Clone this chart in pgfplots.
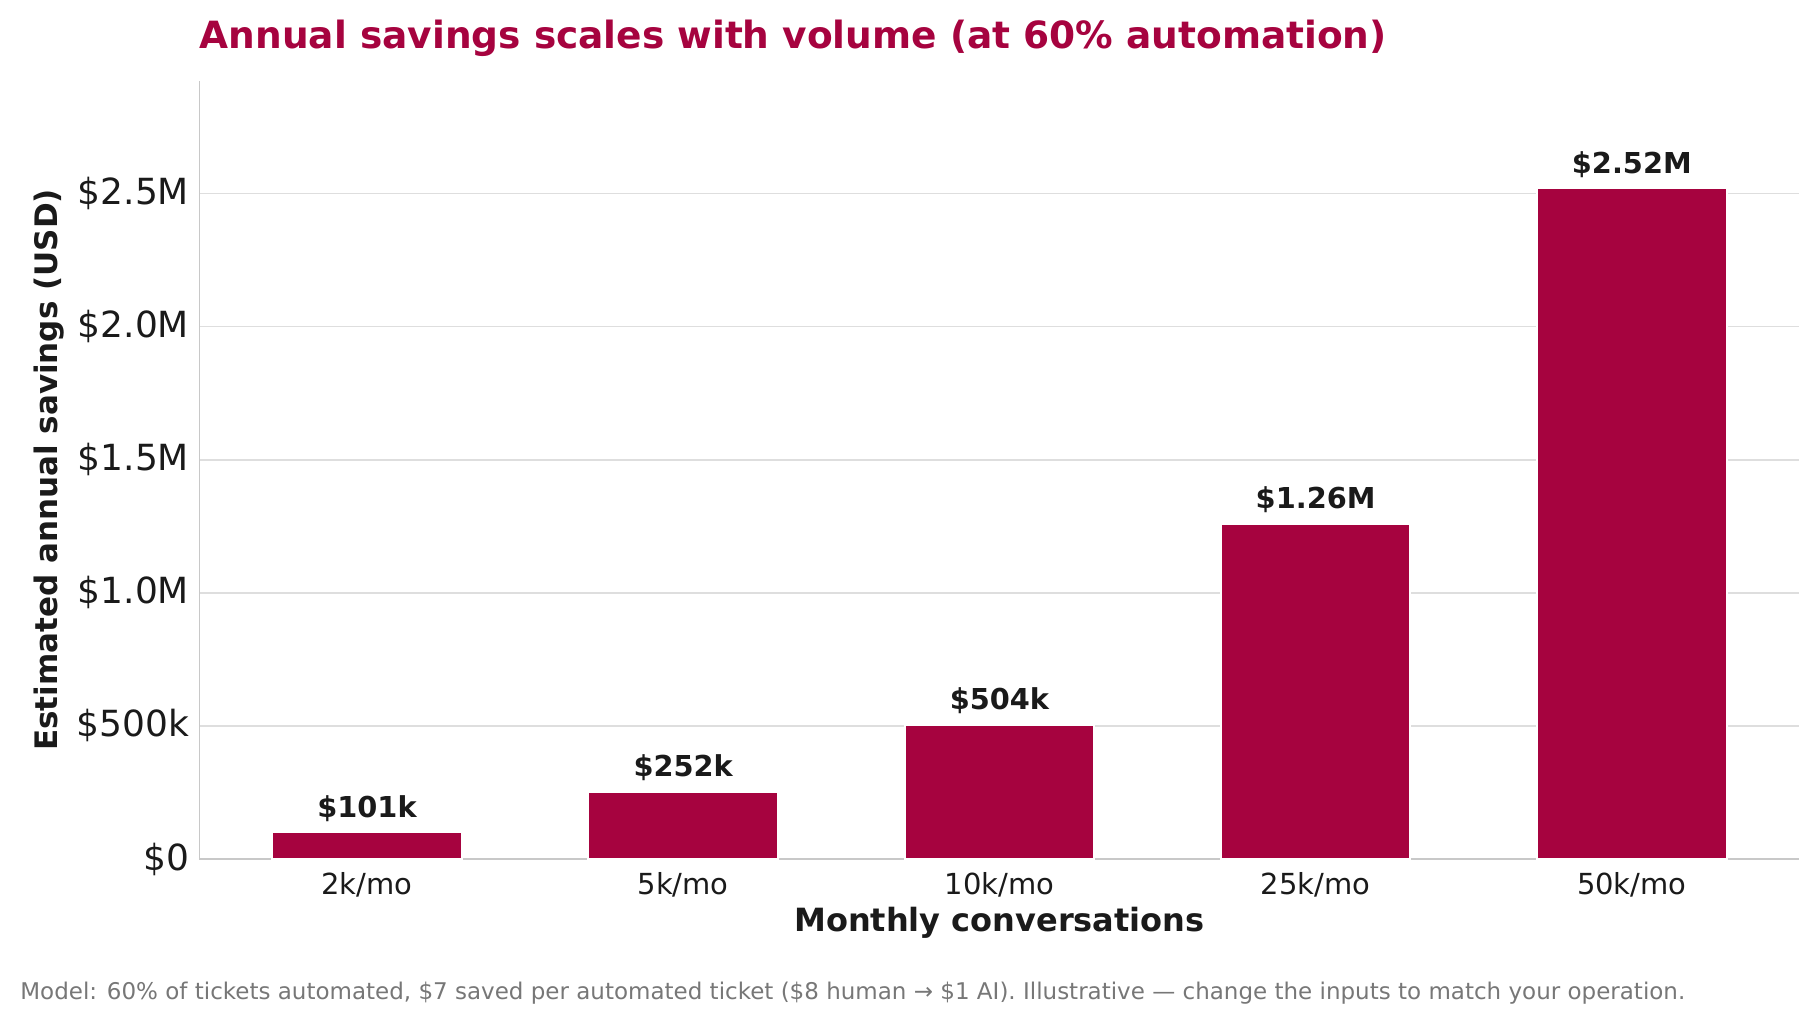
\documentclass[border=0pt]{standalone}
\usepackage{fontspec}
\setmainfont{DejaVu Sans}
\usepackage{pgfplots}
\pgfplotsset{compat=1.18}
\definecolor{crimson}{HTML}{A6033F}
\definecolor{ink}{HTML}{1A1A1A}
\definecolor{gridgray}{HTML}{DEDEDE}
\definecolor{spinegray}{HTML}{C8C8C8}
\definecolor{notegray}{HTML}{777777}

\begin{document}
\begin{tikzpicture}
\path[use as bounding box] (0,0) rectangle (909pt,512.5pt);
\begin{axis}[
  at={(99.7pt,83pt)}, anchor=south west,
  scale only axis, width=800pt, height=389pt,
  xmin=-0.53, xmax=4.53, ymin=0, ymax=2923200,
  scaled y ticks=false,
  axis x line=bottom, axis y line=left,
  axis line style={draw=spinegray, line width=0.75pt, -},
  xtick={0,1,2,3,4},
  xticklabels={2k/mo,5k/mo,10k/mo,25k/mo,50k/mo},
  ytick={0,500000,1000000,1500000,2000000,2500000},
  yticklabels={\$0,\$500k,\$1.0M,\$1.5M,\$2.0M,\$2.5M},
  major tick length=0pt,
  ymajorgrids, grid style={draw=gridgray, line width=0.75pt},
  /pgf/number format/assume math mode=true,
  yticklabel style={font=\fontsize{18}{21}\selectfont, text=ink, inner sep=0pt, xshift=-5pt},
  xticklabel style={font=\fontsize{14.5}{17}\selectfont, text=ink, inner sep=0pt, yshift=-6.5pt},
  xlabel={Monthly conversations},
  xlabel style={font=\bfseries\fontsize{16}{19}\selectfont, text=ink,
    at={(axis description cs:0.5,-0.0823)}, anchor=center},
  ylabel={Estimated annual savings (USD)},
  ylabel style={font=\bfseries\fontsize{15.5}{18}\selectfont, text=ink,
    at={(axis description cs:-0.094,0.5)}, anchor=center},
  ybar, bar width=0.6,
]
\addplot[fill=crimson, draw=white, line width=1pt,
  nodes near coords, point meta=explicit symbolic,
  every node near coord/.append style={font=\bfseries\fontsize{14.4}{17}\selectfont,
    text=ink, anchor=base, inner sep=0pt, yshift=7.5pt}]
  coordinates {
    (0,100800)  [\$101k]
    (1,252000)  [\$252k]
    (2,504000)  [\$504k]
    (3,1260000) [\$1.26M]
    (4,2520000) [\$2.52M]
  };
\end{axis}
\node[anchor=base west, inner sep=0pt, text=crimson,
  font=\bfseries\fontsize{18.75}{22}\selectfont] at (99.7pt,488pt)
  {Annual savings scales with volume (at 60\% automation)};
\node[anchor=base west, inner sep=0pt, text=notegray,
  font=\fontsize{11.5}{13}\selectfont] at (10pt,13pt)
  {Model: 60\% of tickets automated, \$7 saved per automated ticket (\$8 human → \$1 AI). Illustrative — change the inputs to match your operation.};
\end{tikzpicture}
\end{document}
